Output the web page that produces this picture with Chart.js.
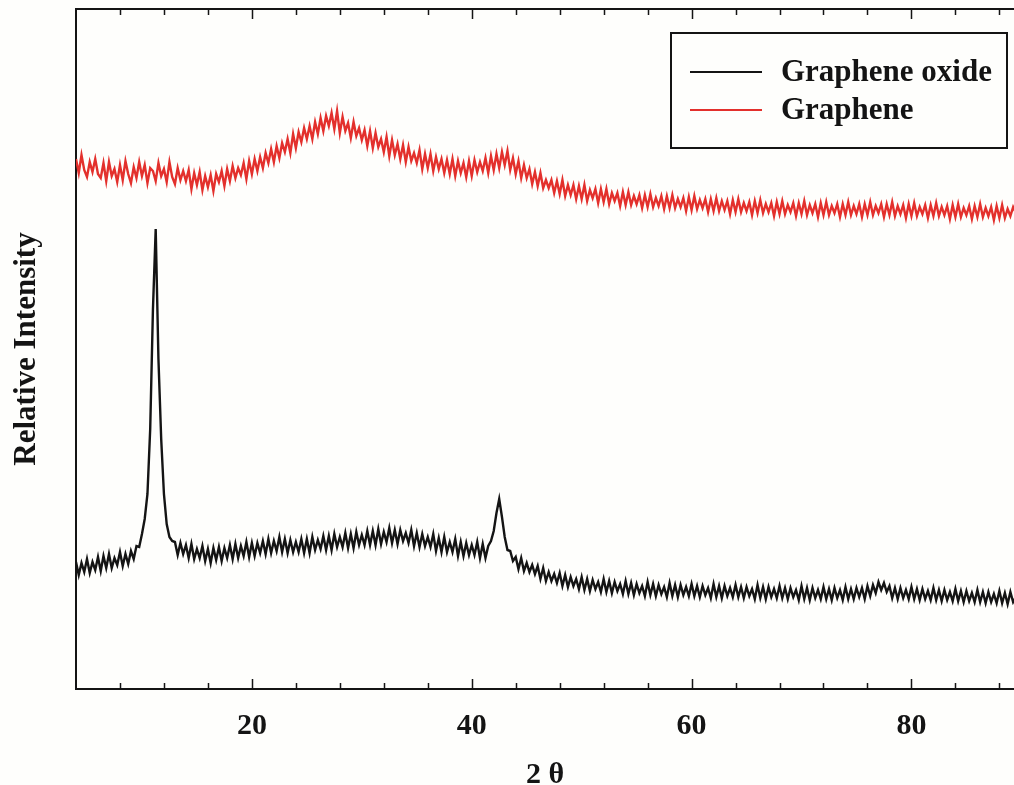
<!DOCTYPE html>
<html>
<head>
<meta charset="utf-8">
<script src="https://cdn.jsdelivr.net/npm/chart.js@4.4.1/dist/chart.umd.min.js"></script>
<style>
html,body{margin:0;padding:0;background:#fefefc;}
#wrap{width:1014px;height:785px;position:relative;}
</style>
</head>
<body>
<div id="wrap"><canvas id="c" width="1014" height="785"></canvas></div>
<script>
// Scan: start angle and step (degrees 2θ)
const angleStart = 4;
const angleStep = 0.25;
const xMin = 4, xMax = 89.33;
const yMin = 0, yMax = 680;
const majorTicks = [20, 40, 60, 80];
const minorTicks = [8, 12, 16, 24, 28, 32, 36, 44, 48, 52, 56, 64, 68, 72, 76, 84, 88];
const seriesNames = ["Graphene oxide", "Graphene"];
const seriesColors = ["#141414", "#e3302c"];

// Graphene oxide intensity (arbitrary units), one row per degree from 4 to 89.5
const grapheneOxide = [
127,114,126,117, 130,116,127,119, 132,118,133,121, 135,121,131,124,
137,123,135,125, 138,130,143,142, 155,170,195,260, 380,460,330,250,
195,165,152,148, 147,134,146,135, 144,131,145,130, 140,131,143,128,
140,126,141,129, 142,128,141,131, 144,130,145,131, 143,133,147,132,
146,133,146,136, 148,135,150,136, 148,138,152,137, 150,136,149,137,
147,137,150,136, 150,136,152,139, 149,140,153,139, 153,139,155,142,
152,142,156,141, 155,141,157,144, 154,144,158,144, 158,144,160,145,
157,147,161,146, 159,145,159,148, 156,146,159,143, 156,142,155,143,
152,142,155,138, 151,137,152,137, 147,137,150,133, 147,133,146,134,
144,134,147,131, 145,131,143,148, 158,176,190,172, 152,139,138,128,
132,120,131,118, 126,117,124,115, 123,110,121,108, 117,108,115,106,
116,103,114,102, 112,103,110,100, 112,99,110,98, 109,100,107,97,
110,97,108,96, 107,98,105,95, 108,95,106,94, 105,96,103,93,
107,94,105,93, 104,95,102,92, 106,93,104,92, 104,94,102,93,
105,93,103,92, 103,94,101,91, 105,92,103,91, 103,93,101,92,
104,92,102,91, 102,93,100,90, 104,91,102,90, 102,92,100,91,
103,91,101,90, 101,92,99,89, 103,90,101,89, 101,91,99,90,
102,90,100,89, 101,91,99,89, 102,90,100,90, 101,92,101,90,
103,93,104,96, 107,99,106,97, 103,91,101,90, 101,91,99,90,
102,90,100,89, 100,90,98,89, 101,89,99,88, 99,89,97,88,
100,88,98,87, 98,88,96,87, 99,87,97,86, 97,87,95,86,
98,86,96,85, 97,87,92
];

// Graphene intensity (arbitrary units, offset upward), same scan grid
const graphene = [
530,516,534,519, 512,527,517,530, 515,511,526,508, 527,513,520,507,
524,509,528,515, 506,522,511,527, 513,524,506,521, 518,508,526,513,
520,507,527,512, 505,521,509,518, 508,519,500,516, 504,517,499,513,
502,514,498,515, 507,518,503,520, 508,523,511,521, 514,526,510,528,
515,530,518,532, 521,536,526,540, 527,543,531,546, 537,550,536,555,
541,557,547,561, 550,563,550,567, 555,571,558,573, 563,576,560,578,
556,572,558,566, 551,567,553,561, 549,559,543,558, 541,556,542,550,
537,552,533,549, 534,545,530,544, 527,542,528,536, 526,539,520,535,
521,535,518,532, 520,530,516,529, 515,530,513,528, 516,526,512,528,
513,529,517,527, 518,531,516,533, 519,535,521,537, 524,538,519,531,
515,528,511,524, 511,520,505,517, 503,516,501,509, 501,509,496,508,
495,509,493,504, 494,504,490,503, 490,504,488,499, 491,500,486,500,
487,500,485,496, 488,496,483,497, 484,497,484,493, 485,494,481,494,
482,495,482,491, 483,493,480,493, 481,494,481,490, 482,491,478,492,
479,493,480,489, 481,490,477,490, 478,491,478,488, 479,488,475,489,
477,490,477,486, 478,487,474,488, 476,489,476,485, 477,486,473,487,
475,488,475,484, 477,486,473,486, 475,488,474,484, 476,485,472,486,
474,487,474,483, 476,485,472,485, 474,487,474,483, 475,485,472,485,
474,487,474,483, 476,485,472,485, 474,487,473,483, 475,484,471,485,
473,486,473,482, 475,484,471,484, 473,486,473,482, 474,483,470,484,
472,485,472,481, 474,483,470,483, 472,485,472,481, 473,482,469,483,
471,484,471,480, 473,482,476
];

const angles = grapheneOxide.map((_, i) => angleStart + i * angleStep);
const toPoints = arr => arr.map((v, i) => ({ x: angles[i], y: v }));

const serif = "'Liberation Serif', 'Times New Roman', serif";

const frameTicks = {
  id: 'frameTicks',
  afterDatasetsDraw(chart) {
    const { ctx, chartArea: a, scales: { x } } = chart;
    ctx.save();
    ctx.strokeStyle = '#141414';
    ctx.lineWidth = 2;
    ctx.beginPath();
    ctx.moveTo(a.left, a.top);
    ctx.lineTo(a.right, a.top);
    ctx.stroke();
    ctx.lineWidth = 1.5;
    const draw = (vals, len) => {
      vals.forEach(v => {
        const px = Math.round(x.getPixelForValue(v)) + 0.5;
        ctx.beginPath();
        ctx.moveTo(px, a.bottom); ctx.lineTo(px, a.bottom - len);
        ctx.moveTo(px, a.top); ctx.lineTo(px, a.top + len);
        ctx.stroke();
      });
    };
    draw(majorTicks, 10);
    draw(minorTicks, 6);
    ctx.restore();
  }
};

const boxLegend = {
  id: 'boxLegend',
  afterDraw(chart) {
    const { ctx } = chart;
    ctx.save();
    ctx.fillStyle = '#fefefc';
    ctx.fillRect(671, 33, 336, 115);
    ctx.strokeStyle = '#141414';
    ctx.lineWidth = 2;
    ctx.strokeRect(671, 33, 336, 115);
    const rows = [72, 110];
    chart.data.datasets.forEach((ds, i) => {
      ctx.strokeStyle = ds.borderColor;
      ctx.lineWidth = 2;
      ctx.beginPath();
      ctx.moveTo(690, rows[i]); ctx.lineTo(762, rows[i]);
      ctx.stroke();
      ctx.fillStyle = '#141414';
      ctx.font = "bold 31px " + serif;
      ctx.textBaseline = 'middle';
      ctx.fillText(ds.label, 781, rows[i] + 1);
    });
    ctx.restore();
  }
};

new Chart(document.getElementById('c'), {
  type: 'line',
  data: {
    datasets: [
      { label: seriesNames[0], data: toPoints(grapheneOxide), borderColor: seriesColors[0], borderWidth: 2.4, pointRadius: 0, tension: 0 },
      { label: seriesNames[1], data: toPoints(graphene), borderColor: seriesColors[1], borderWidth: 2.4, pointRadius: 0, tension: 0 }
    ]
  },
  options: {
    responsive: false,
    animation: false,
    layout: { padding: { top: 9, right: 0, left: 0, bottom: 0 } },
    plugins: { legend: { display: false }, tooltip: { enabled: false } },
    scales: {
      x: {
        type: 'linear', min: xMin, max: xMax,
        afterBuildTicks: s => { s.ticks = majorTicks.map(v => ({ value: v })); },
        afterFit: s => { s.height = 96; },
        grid: { display: false, drawTicks: false },
        border: { display: true, color: '#141414', width: 2 },
        ticks: { font: { family: serif, size: 30, weight: 'bold' }, color: '#141414', padding: 19, maxRotation: 0 },
        title: { display: true, text: '2 θ', font: { family: serif, size: 30, weight: 'bold', lineHeight: 1 }, color: '#141414', padding: { top: 0, bottom: -5 } }
      },
      y: {
        min: yMin, max: yMax,
        afterFit: s => { s.width = 76; },
        grid: { display: false, drawTicks: false },
        border: { display: true, color: '#141414', width: 2 },
        ticks: { display: false },
        title: { display: true, text: 'Relative Intensity', font: { family: serif, size: 31, weight: 'bold' }, color: '#141414', padding: { top: 8, bottom: 0 } }
      }
    }
  },
  plugins: [frameTicks, boxLegend]
});
</script>
</body>
</html>
